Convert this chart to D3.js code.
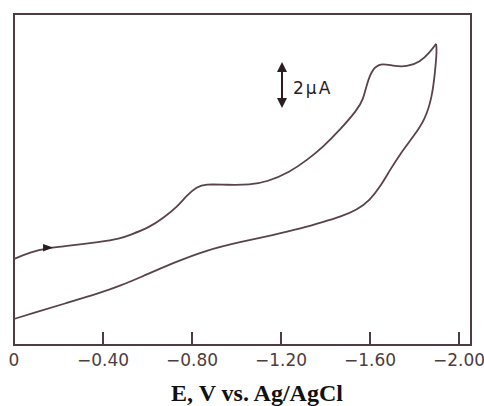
<!DOCTYPE html>
<html>
<head>
<meta charset="utf-8">
<script src="https://cdn.jsdelivr.net/npm/d3@7"></script>
<style>
  body { margin: 0; background: #fff; }
</style>
</head>
<body>
<svg width="484" height="406"></svg>
<script>
"use strict";

// Forward scan (0 -> switching potential), E in V, current in uA (arbitrary offset)
var fwdE = [0, -0.072, -0.153, -0.238, -0.387, -0.476, -0.521, -0.611, -0.670, -0.733,
    -0.778, -0.822, -0.858, -0.957, -1.061, -1.137, -1.240, -1.317, -1.389, -1.465,
    -1.542, -1.569, -1.587, -1.609, -1.645, -1.703, -1.766, -1.825, -1.870, -1.897];
var fwdI = [3.74, 4.04, 4.22, 4.30, 4.48, 4.62, 4.78, 5.13, 5.52, 6.00,
    6.52, 6.87, 7.00, 6.96, 6.96, 7.09, 7.52, 8.04, 8.61, 9.35,
    10.22, 10.65, 11.39, 11.96, 12.26, 12.13, 12.09, 12.30, 12.74, 13.09];

// Reverse scan (switching potential -> 0)
var revE = [-1.897, -1.901, -1.892, -1.879, -1.847, -1.793, -1.735, -1.690, -1.645, -1.600,
    -1.542, -1.465, -1.389, -1.299, -1.164, -1.016, -0.867, -0.715, -0.566, -0.476,
    -0.387, -0.238, -0.085, 0];
var revI = [13.09, 12.83, 11.83, 10.78, 9.78, 9.04, 8.30, 7.61, 6.87, 6.30,
    5.87, 5.57, 5.35, 5.09, 4.78, 4.48, 4.13, 3.57, 2.93, 2.57,
    2.26, 1.83, 1.39, 1.13];

var tickValues = [-0.4, -0.8, -1.2, -1.6, -2.0];
var tickLabels = ["0", "\u22120.40", "\u22120.80", "\u22121.20", "\u22121.60", "\u22122.00"];
var labelValues = [0, -0.4, -0.8, -1.2, -1.6, -2.0];

var ink = "#4e3c40";

var svg = d3.select("svg");

// Scales
var xScale = d3.scaleLinear()
    .domain([0, -2.054])
    .range([14, 471]);

var yScale = d3.scaleLinear()
    .domain([0, 14.39])
    .range([345, 14]);

// Frame
svg.append("rect")
    .attr("x", 14)
    .attr("y", 14)
    .attr("width", 457)
    .attr("height", 331)
    .attr("fill", "none")
    .attr("stroke", ink)
    .attr("stroke-width", 2);

// Ticks pointing up into the plot
svg.append("g")
    .selectAll("line")
    .data(tickValues)
    .enter().append("line")
    .attr("x1", function(d) { return xScale(d); })
    .attr("x2", function(d) { return xScale(d); })
    .attr("y1", 345)
    .attr("y2", 332)
    .attr("stroke", ink)
    .attr("stroke-width", 2);

// Tick labels
svg.append("g")
    .selectAll("text")
    .data(labelValues)
    .enter().append("text")
    .attr("x", function(d) { return xScale(d); })
    .attr("y", 366)
    .attr("text-anchor", "middle")
    .style("font-family", "DejaVu Sans, sans-serif")
    .style("font-size", "17px")
    .attr("fill", ink)
    .text(function(d, i) { return tickLabels[i]; });

// Axis title
svg.append("text")
    .attr("x", 257)
    .attr("y", 401)
    .attr("text-anchor", "middle")
    .style("font-family", "Liberation Serif, serif")
    .style("font-weight", "bold")
    .style("font-size", "24px")
    .attr("fill", "#111")
    .text("E, V vs. Ag/AgCl");

// Curves
var line = d3.line()
    .x(function(d) { return xScale(d[0]); })
    .y(function(d) { return yScale(d[1]); })
    .curve(d3.curveBasis);

var fwd = d3.zip(fwdE, fwdI);
var rev = d3.zip(revE, revI);

svg.append("path")
    .attr("d", line(fwd))
    .attr("fill", "none")
    .attr("stroke", "#5a4248")
    .attr("stroke-width", 1.8);

svg.append("path")
    .attr("d", line(rev))
    .attr("fill", "none")
    .attr("stroke", "#5a4248")
    .attr("stroke-width", 1.8);

// Direction arrow on forward scan
var ax = xScale(-0.153), ay = yScale(4.22);
svg.append("path")
    .attr("d", "M" + (ax - 5) + "," + (ay - 4) + "L" + (ax + 5) + "," + (ay - 0.5) + "L" + (ax - 5) + "," + (ay + 3.5) + "Z")
    .attr("fill", "#2a1e22");

// 2 uA scale bar
var barI = 2;
var barX = 282, barTop = 62;
var barBottom = barTop + (yScale(0) - yScale(barI));
svg.append("line")
    .attr("x1", barX).attr("x2", barX)
    .attr("y1", barTop + 6).attr("y2", barBottom - 6)
    .attr("stroke", "#2a1e22")
    .attr("stroke-width", 2);
svg.append("path")
    .attr("d", "M" + barX + "," + barTop + "L" + (barX + 5) + "," + (barTop + 10) + "L" + (barX - 5) + "," + (barTop + 10) + "Z")
    .attr("fill", "#2a1e22");
svg.append("path")
    .attr("d", "M" + barX + "," + barBottom + "L" + (barX + 5) + "," + (barBottom - 10) + "L" + (barX - 5) + "," + (barBottom - 10) + "Z")
    .attr("fill", "#2a1e22");
svg.append("text")
    .attr("x", 293)
    .attr("y", 94)
    .style("font-family", "DejaVu Sans, sans-serif")
    .style("font-size", "17px")
    .style("letter-spacing", "2px")
    .attr("fill", "#2a1e22")
    .text("2\u00b5A");
</script>
</body>
</html>
